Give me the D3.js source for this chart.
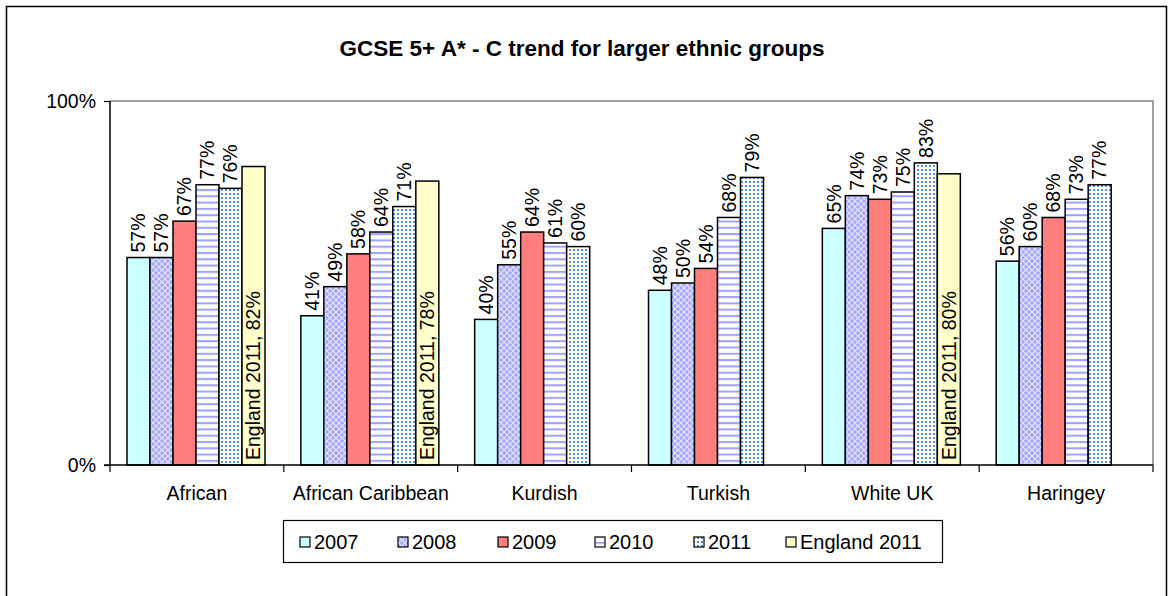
<!DOCTYPE html>
<html><head><meta charset="utf-8">
<script src="https://cdn.jsdelivr.net/npm/d3@7"></script>
<style>body{margin:0;background:#fff;}text{font-family:"Liberation Sans",Arial,sans-serif;}</style>
</head><body>
<svg id="c" width="1170" height="596"></svg>
<script>
const categories = ["African","African Caribbean","Kurdish","Turkish","White UK","Haringey"];
const seriesNames = ["2007","2008","2009","2010","2011","England 2011"];
const v2007 = [57,41,40,48,65,56];
const v2008 = [57,49,55,50,74,60];
const v2009 = [67,58,64,54,73,68];
const v2010 = [77,64,61,68,75,73];
const v2011 = [76,71,60,79,83,77];
const vEngland = [82,78,null,null,80,null];
const yTicks = [0,100];
const title = "GCSE 5+ A* - C trend for larger ethnic groups";

const seriesVals = [v2007,v2008,v2009,v2010,v2011,vEngland];
const fills = ["#CCFFFF","url(#p2008)","#FF7F7F","url(#p2010)","url(#p2011)","#FFFFCC"];

const svg = d3.select("#c");
const defs = svg.append("defs");
let p = defs.append("pattern").attr("id","p2008").attr("patternUnits","userSpaceOnUse").attr("width",6).attr("height",6);
p.append("rect").attr("width",6).attr("height",6).attr("fill","#A6A6FF");
p.append("path").attr("d","M0,0 L6,6 M6,0 L0,6").attr("stroke","#E6E6FF").attr("stroke-width",1.2);
p = defs.append("pattern").attr("id","p2010").attr("patternUnits","userSpaceOnUse").attr("width",6).attr("height",6.3);
p.append("rect").attr("width",6).attr("height",6.3).attr("fill","#fff");
p.append("rect").attr("y",0).attr("width",6).attr("height",2).attr("fill","#A0A0FF");
p = defs.append("pattern").attr("id","p2011").attr("patternUnits","userSpaceOnUse").attr("width",4).attr("height",4);
p.append("rect").attr("width",4).attr("height",4).attr("fill","#fff");
p.append("rect").attr("x",1).attr("y",1).attr("width",2).attr("height",2).attr("fill","#4F8FEF");

svg.append("rect").attr("x",6.5).attr("y",6.5).attr("width",1160).attr("height",620).attr("fill","none").attr("stroke","#000").attr("stroke-width",1.5);

const L=110, R=1153, T=101, B=465;
const x0 = d3.scaleBand().domain(categories).range([L,R]).padding(0);
const x1 = d3.scaleBand().domain(seriesNames).range([17,155]).padding(0);
const y = d3.scaleLinear().domain([0,100]).range([B,T]);

svg.append("text").attr("x",582).attr("y",56).attr("text-anchor","middle").attr("font-weight","bold").attr("font-size",22.5).attr("fill","#000").text(title);

svg.append("path").attr("d",`M${L},${T}H${R}V${B}`).attr("fill","none").attr("stroke","#808080").attr("stroke-width",1.5);

seriesNames.forEach((s,si)=>{
  const vals = seriesVals[si];
  const g = svg.append("g");
  categories.forEach((c,ci)=>{
    const v = vals[ci];
    if(v==null) return;
    const bx = x0(c)+x1(s);
    g.append("rect").attr("x",bx).attr("y",y(v)).attr("width",x1.bandwidth()).attr("height",B-y(v))
      .attr("fill",fills[si]).attr("stroke","#000").attr("stroke-width",1.5);
    const cx = bx + x1.bandwidth()/2;
    if(si===5){
      g.append("text").attr("transform",`translate(${cx},${B-5}) rotate(-90)`).attr("dy","0.35em")
        .attr("font-size",19.5).attr("fill","#000").text(`${s}, ${v}%`);
    } else {
      g.append("text").attr("transform",`translate(${cx},${y(v)-5}) rotate(-90)`).attr("dy","0.35em")
        .attr("font-size",19.5).attr("fill","#000").text(`${v}%`);
    }
  });
});

const xAxis = d3.axisBottom(x0).tickSize(0).tickFormat("");
const xg = svg.append("g").attr("transform",`translate(0,${B})`).call(xAxis);
xg.select(".domain").remove();
xg.selectAll(".tick").remove();
const bounds = d3.range(categories.length+1).map(i=>L+i*x0.step());
xg.selectAll("line.tk").data(bounds).join("line").attr("class","tk").attr("x1",d=>d).attr("x2",d=>d).attr("y1",0).attr("y2",7).attr("stroke","#000").attr("stroke-width",1.2);
xg.append("line").attr("x1",L-6).attr("x2",R).attr("stroke","#000").attr("stroke-width",1.5);
xg.selectAll("text.cat").data(categories).join("text").attr("class","cat")
  .attr("x",d=>x0(d)+x0.bandwidth()/2).attr("y",35).attr("text-anchor","middle").attr("font-size",19.5).attr("fill","#000").text(d=>d);

const yAxis = d3.axisLeft(y).tickValues(yTicks).tickSize(6).tickFormat(d=>d+"%");
const yg = svg.append("g").attr("transform",`translate(${L},0)`).call(yAxis);
yg.select(".domain").attr("stroke","#000").attr("stroke-width",1.5).attr("d",`M0,${T}V${B}`);
yg.selectAll(".tick line").attr("stroke","#000").attr("stroke-width",1.2);
yg.selectAll(".tick text").attr("font-size",19.5).attr("font-family","Liberation Sans, Arial, sans-serif").attr("fill","#000").attr("x",-14);

const lg = svg.append("g");
lg.append("rect").attr("x",283.5).attr("y",520.5).attr("width",659).attr("height",42).attr("fill","#fff").attr("stroke","#000").attr("stroke-width",1.2);
const legX = [300,398,498,595,694,786];
seriesNames.forEach((s,i)=>{
  lg.append("rect").attr("x",legX[i]).attr("y",537).attr("width",10).attr("height",10).attr("fill",fills[i]).attr("stroke","#000").attr("stroke-width",1.2);
  lg.append("text").attr("x",legX[i]+14).attr("y",549).attr("font-size",20).attr("fill","#000").text(s);
});
</script>
</body></html>
